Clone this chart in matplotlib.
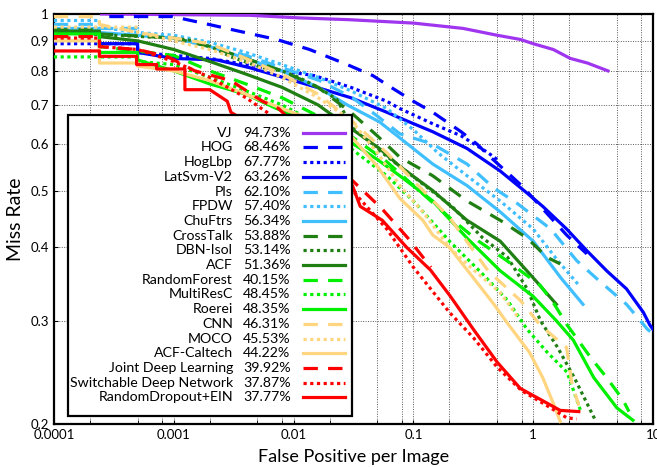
import matplotlib
matplotlib.use('Agg')
import matplotlib.pyplot as plt
from matplotlib import font_manager
from matplotlib.ticker import FixedLocator, LogLocator, NullFormatter, NullLocator
from matplotlib.lines import Line2D
from matplotlib.patches import Rectangle

plt.rcParams['font.family'] = ['Lato', 'DejaVu Sans']

# miss rate vs false positives per image
vj_fppi = [0.00025, 0.0043, 0.011, 0.029, 0.1, 0.26, 0.5, 0.78, 1.0, 1.47, 2.04, 2.83, 4.2]
vj_miss = [1.0, 0.995, 0.985, 0.978, 0.965, 0.945, 0.92, 0.905, 0.89, 0.87, 0.84, 0.825, 0.80]

hog_fppi = [0.00029, 0.00098, 0.00175, 0.0031, 0.0072, 0.0136, 0.028, 0.046, 0.065, 0.1, 0.145, 0.25, 0.34, 0.42, 0.8, 1.15, 1.9, 2.8]
hog_miss = [0.99, 0.99, 0.965, 0.94, 0.905, 0.87, 0.82, 0.785, 0.75, 0.71, 0.68, 0.63, 0.60, 0.575, 0.51, 0.47, 0.42, 0.39]

hoglbp_fppi = [0.0001, 0.00024, 0.00024, 0.0005, 0.0005, 0.001, 0.002, 0.004, 0.008, 0.015, 0.03, 0.06, 0.077, 0.145, 0.25, 0.42, 0.5]
hoglbp_miss = [0.89, 0.89, 0.89, 0.89, 0.86, 0.85, 0.84, 0.82, 0.80, 0.785, 0.75, 0.71, 0.69, 0.65, 0.62, 0.58, 0.565]

latsvm_fppi = [0.0001, 0.00024, 0.00024, 0.0005, 0.0005, 0.001, 0.0023, 0.0043, 0.0081, 0.0156, 0.03, 0.06, 0.077, 0.145, 0.28, 0.53, 0.89, 1.2, 1.9, 2.8, 4.1, 6.0, 8.3, 9.4, 10]
latsvm_miss = [0.93, 0.93, 0.89, 0.89, 0.86, 0.84, 0.835, 0.81, 0.78, 0.75, 0.72, 0.68, 0.665, 0.63, 0.59, 0.54, 0.495, 0.47, 0.43, 0.395, 0.365, 0.34, 0.31, 0.295, 0.29]

pls_fppi = [0.0001, 0.00024, 0.00024, 0.0005, 0.0005, 0.001, 0.002, 0.004, 0.008, 0.0165, 0.031, 0.05, 0.077, 0.145, 0.28, 0.47, 0.74, 1.4, 2.3, 3.6, 6.0, 9.0, 10]
pls_miss = [0.96, 0.96, 0.945, 0.945, 0.92, 0.91, 0.88, 0.85, 0.81, 0.77, 0.72, 0.67, 0.625, 0.60, 0.555, 0.505, 0.475, 0.43, 0.38, 0.35, 0.32, 0.29, 0.285]

fpdw_fppi = [0.0001, 0.00024, 0.00024, 0.0005, 0.001, 0.002, 0.004, 0.008, 0.016, 0.03, 0.06, 0.1, 0.16, 0.28, 0.53, 1.0, 1.6, 2.4]
fpdw_miss = [0.975, 0.975, 0.95, 0.93, 0.92, 0.895, 0.86, 0.82, 0.78, 0.74, 0.69, 0.635, 0.58, 0.53, 0.48, 0.43, 0.38, 0.345]

chuftrs_fppi = [0.0001, 0.00024, 0.00024, 0.0005, 0.001, 0.002, 0.004, 0.008, 0.016, 0.028, 0.052, 0.077, 0.145, 0.28, 0.53, 1.0, 1.7, 2.6]
chuftrs_miss = [0.945, 0.945, 0.93, 0.92, 0.91, 0.88, 0.84, 0.80, 0.75, 0.70, 0.655, 0.615, 0.555, 0.51, 0.46, 0.41, 0.355, 0.32]

crosstalk_fppi = [0.0001, 0.00024, 0.00024, 0.001, 0.002, 0.004, 0.008, 0.016, 0.03, 0.05, 0.077, 0.145, 0.28, 0.53, 0.89, 1.3, 1.68]
crosstalk_miss = [0.94, 0.94, 0.925, 0.91, 0.88, 0.84, 0.80, 0.75, 0.68, 0.62, 0.57, 0.53, 0.48, 0.445, 0.415, 0.385, 0.375]

dbn_fppi = [0.0001, 0.001, 0.0015, 0.0023, 0.003, 0.0055, 0.008, 0.011, 0.016, 0.023, 0.031, 0.055, 0.11, 0.21, 0.38, 0.61, 0.89, 1.15, 1.6, 2.2, 3.3]
dbn_miss = [0.93, 0.91, 0.90, 0.87, 0.845, 0.81, 0.80, 0.78, 0.75, 0.715, 0.64, 0.58, 0.52, 0.47, 0.415, 0.385, 0.34, 0.30, 0.27, 0.24, 0.203]

acf_fppi = [0.0001, 0.00024, 0.00024, 0.0005, 0.001, 0.002, 0.004, 0.008, 0.016, 0.028, 0.052, 0.077, 0.145, 0.28, 0.53, 1.0, 1.56]
acf_miss = [0.935, 0.935, 0.915, 0.90, 0.87, 0.83, 0.79, 0.75, 0.70, 0.645, 0.59, 0.55, 0.50, 0.445, 0.41, 0.355, 0.32]

rforest_fppi = [0.0001, 0.00024, 0.00024, 0.001, 0.002, 0.004, 0.008, 0.016, 0.03, 0.06, 0.1, 0.2, 0.35, 0.6, 1.14, 1.5, 1.92, 3.0, 4.1, 5.6, 6.3]
rforest_miss = [0.92, 0.92, 0.88, 0.85, 0.80, 0.76, 0.72, 0.67, 0.62, 0.56, 0.51, 0.45, 0.41, 0.38, 0.345, 0.32, 0.295, 0.26, 0.24, 0.22, 0.21]

multiresc_fppi = [0.0001, 0.0005, 0.0005, 0.001, 0.002, 0.004, 0.008, 0.016, 0.03, 0.06, 0.1, 0.2, 0.38, 0.61, 0.89, 1.31, 1.92, 2.5]
multiresc_miss = [0.845, 0.845, 0.83, 0.82, 0.78, 0.74, 0.70, 0.65, 0.59, 0.53, 0.48, 0.41, 0.36, 0.325, 0.29, 0.265, 0.245, 0.21]

roerei_fppi = [0.0001, 0.00024, 0.00024, 0.0005, 0.0005, 0.001, 0.002, 0.004, 0.0072, 0.014, 0.028, 0.05, 0.077, 0.145, 0.28, 0.53, 1.0, 1.56, 2.16, 3.2, 5.0, 6.8]
roerei_miss = [0.925, 0.925, 0.86, 0.86, 0.835, 0.80, 0.76, 0.73, 0.69, 0.655, 0.61, 0.565, 0.53, 0.48, 0.415, 0.365, 0.33, 0.30, 0.278, 0.24, 0.213, 0.203]

cnn_fppi = [0.0001, 0.00024, 0.00024, 0.0005, 0.001, 0.002, 0.004, 0.008, 0.016, 0.03, 0.06, 0.1, 0.2, 0.42, 0.78, 1.14, 1.9, 2.1, 2.4]
cnn_miss = [0.99, 0.99, 0.96, 0.93, 0.91, 0.89, 0.84, 0.79, 0.73, 0.66, 0.58, 0.52, 0.45, 0.365, 0.325, 0.295, 0.27, 0.235, 0.215]

moco_fppi = [0.0001, 0.0005, 0.0005, 0.001, 0.002, 0.004, 0.008, 0.016, 0.03, 0.05, 0.077, 0.12, 0.2, 0.3, 0.53, 0.74]
moco_miss = [0.95, 0.95, 0.93, 0.90, 0.87, 0.83, 0.78, 0.72, 0.66, 0.58, 0.51, 0.46, 0.40, 0.37, 0.335, 0.305]

acfcal_fppi = [0.0001, 0.00024, 0.00024, 0.0005, 0.0005, 0.001, 0.002, 0.004, 0.008, 0.016, 0.028, 0.05, 0.077, 0.12, 0.145, 0.2, 0.3, 0.47, 0.61, 0.93, 1.2, 1.47, 1.68]
acfcal_miss = [0.90, 0.90, 0.825, 0.825, 0.815, 0.80, 0.77, 0.73, 0.69, 0.655, 0.63, 0.55, 0.485, 0.445, 0.42, 0.40, 0.36, 0.32, 0.297, 0.265, 0.24, 0.217, 0.202]

joint_fppi = [0.0001, 0.00024, 0.00024, 0.0005, 0.0009, 0.0015, 0.003, 0.0055, 0.0075, 0.031, 0.055, 0.09, 0.14]
joint_miss = [0.915, 0.915, 0.88, 0.87, 0.845, 0.80, 0.77, 0.71, 0.69, 0.52, 0.465, 0.415, 0.37]

switch_fppi = [0.0001, 0.00024, 0.00024, 0.0005, 0.001, 0.002, 0.004, 0.006, 0.031, 0.06, 0.1, 0.2, 0.32, 0.5, 0.8, 1.3, 1.9, 2.3]
switch_miss = [0.91, 0.91, 0.88, 0.87, 0.83, 0.78, 0.72, 0.68, 0.50, 0.43, 0.37, 0.31, 0.28, 0.25, 0.228, 0.215, 0.205, 0.204]

rdrop_fppi = [0.0001, 0.00024, 0.00024, 0.00049, 0.00049, 0.00072, 0.00072, 0.00124, 0.00124, 0.002, 0.0028, 0.003, 0.031, 0.036, 0.055, 0.088, 0.139, 0.204, 0.317, 0.5, 0.78, 1.31, 1.68, 2.4]
rdrop_miss = [0.865, 0.865, 0.847, 0.847, 0.82, 0.82, 0.806, 0.806, 0.743, 0.743, 0.71, 0.68, 0.51, 0.47, 0.445, 0.40, 0.366, 0.33, 0.29, 0.255, 0.23, 0.217, 0.211, 0.21]

names = ['VJ', 'HOG', 'HogLbp', 'LatSvm-V2', 'Pls', 'FPDW', 'ChuFtrs', 'CrossTalk',
         'DBN-Isol', 'ACF', 'RandomForest', 'MultiResC', 'Roerei', 'CNN', 'MOCO',
         'ACF-Caltech', 'Joint Deep Learning', 'Switchable Deep Network', 'RandomDropout+EIN']
scores = ['94.73%', '68.46%', '67.77%', '63.26%', '62.10%', '57.40%', '56.34%', '53.88%',
          '53.14%', '51.36%', '40.15%', '48.45%', '48.35%', '46.31%', '45.53%', '44.22%',
          '39.92%', '37.87%', '37.77%']

curves = [(vj_fppi, vj_miss), (hog_fppi, hog_miss), (hoglbp_fppi, hoglbp_miss),
          (latsvm_fppi, latsvm_miss), (pls_fppi, pls_miss), (fpdw_fppi, fpdw_miss),
          (chuftrs_fppi, chuftrs_miss), (crosstalk_fppi, crosstalk_miss), (dbn_fppi, dbn_miss),
          (acf_fppi, acf_miss), (rforest_fppi, rforest_miss), (multiresc_fppi, multiresc_miss),
          (roerei_fppi, roerei_miss), (cnn_fppi, cnn_miss), (moco_fppi, moco_miss),
          (acfcal_fppi, acfcal_miss), (joint_fppi, joint_miss), (switch_fppi, switch_miss),
          (rdrop_fppi, rdrop_miss)]

purple = '#a035f0'
blue = '#0000ff'
lblue = '#40bfff'
dgreen = '#207f12'
green = '#00f000'
yellow = '#ffd580'
red = '#ff0000'
colors = [purple, blue, blue, blue, lblue, lblue, lblue, dgreen, dgreen, dgreen,
          green, green, green, yellow, yellow, yellow, red, red, red]

dash = (0, (4.5, 3.2))
dot = (0, (1.0, 1.1))
styles = ['-', dash, dot, '-', dash, dot, '-', dash, dot, '-',
          dash, dot, '-', dash, dot, '-', dash, dot, '-']

# the legend font in the original is a narrow one
try:
    font_manager.findfont('Liberation Sans Narrow', fallback_to_default=False)
    leg_font = dict(family='Liberation Sans Narrow', fontsize=12)
except Exception:
    leg_font = dict(family='Lato', fontsize=10.2)

fig = plt.figure(figsize=(6.57, 4.67), dpi=100)
ax = fig.add_axes([0.082, 0.092, 0.912, 0.878])

lw = 2.3
for (xs, ys), c, ls in zip(curves, colors, styles):
    ax.plot(xs, ys, color=c, linestyle=ls, lw=lw, dash_capstyle='butt', zorder=3)

ax.set_xscale('log')
ax.set_yscale('log')
ax.set_xlim(1e-4, 10)
ax.set_ylim(0.2, 1.0)

ax.xaxis.set_major_locator(FixedLocator([1e-4, 1e-3, 1e-2, 1e-1, 1, 10]))
ax.set_xticklabels(['0.0001', '0.001', '0.01', '0.1', '1', '10'])
ax.xaxis.set_minor_locator(LogLocator(base=10, subs=[2, 5, 8]))
ax.xaxis.set_minor_formatter(NullFormatter())

yt = [0.2, 0.3, 0.4, 0.5, 0.6, 0.7, 0.8, 0.9, 1.0]
ax.yaxis.set_major_locator(FixedLocator(yt))
ax.set_yticklabels(['0.2', '0.3', '0.4', '0.5', '0.6', '0.7', '0.8', '0.9', '1'])
ax.yaxis.set_minor_locator(NullLocator())

ax.grid(True, which='both', linestyle=(0, (1, 1.5)), color='0.35', lw=0.7)
ax.tick_params(which='both', direction='in', length=3, labelsize=9.5, top=False, right=False)
for s in ax.spines.values():
    s.set_linewidth(1.6)

ax.set_xlabel('False Positive per Image', fontsize=13, labelpad=6)
ax.set_ylabel('Miss Rate', fontsize=14, labelpad=5)

# legend drawn by hand: names right aligned, scores left aligned
tr = ax.transAxes
ax.add_patch(Rectangle((0.0234, 0.0195), 0.4741, 0.7342, transform=tr, facecolor='white',
                       edgecolor='black', lw=1.6, zorder=10))
for i, (n, sc, c, ls) in enumerate(zip(names, scores, colors, styles)):
    yy = 0.7105 - 0.03585 * i
    ax.text(0.2988, yy, n, transform=tr, ha='right', va='center', zorder=11, **leg_font)
    ax.text(0.3155, yy, sc, transform=tr, ha='left', va='center', zorder=11, **leg_font)
    ax.add_line(Line2D([0.4157, 0.4858], [yy, yy], transform=tr, color=c, linestyle=ls,
                       lw=lw, dash_capstyle='butt', zorder=11))

fig.savefig('out.png', dpi=100)
